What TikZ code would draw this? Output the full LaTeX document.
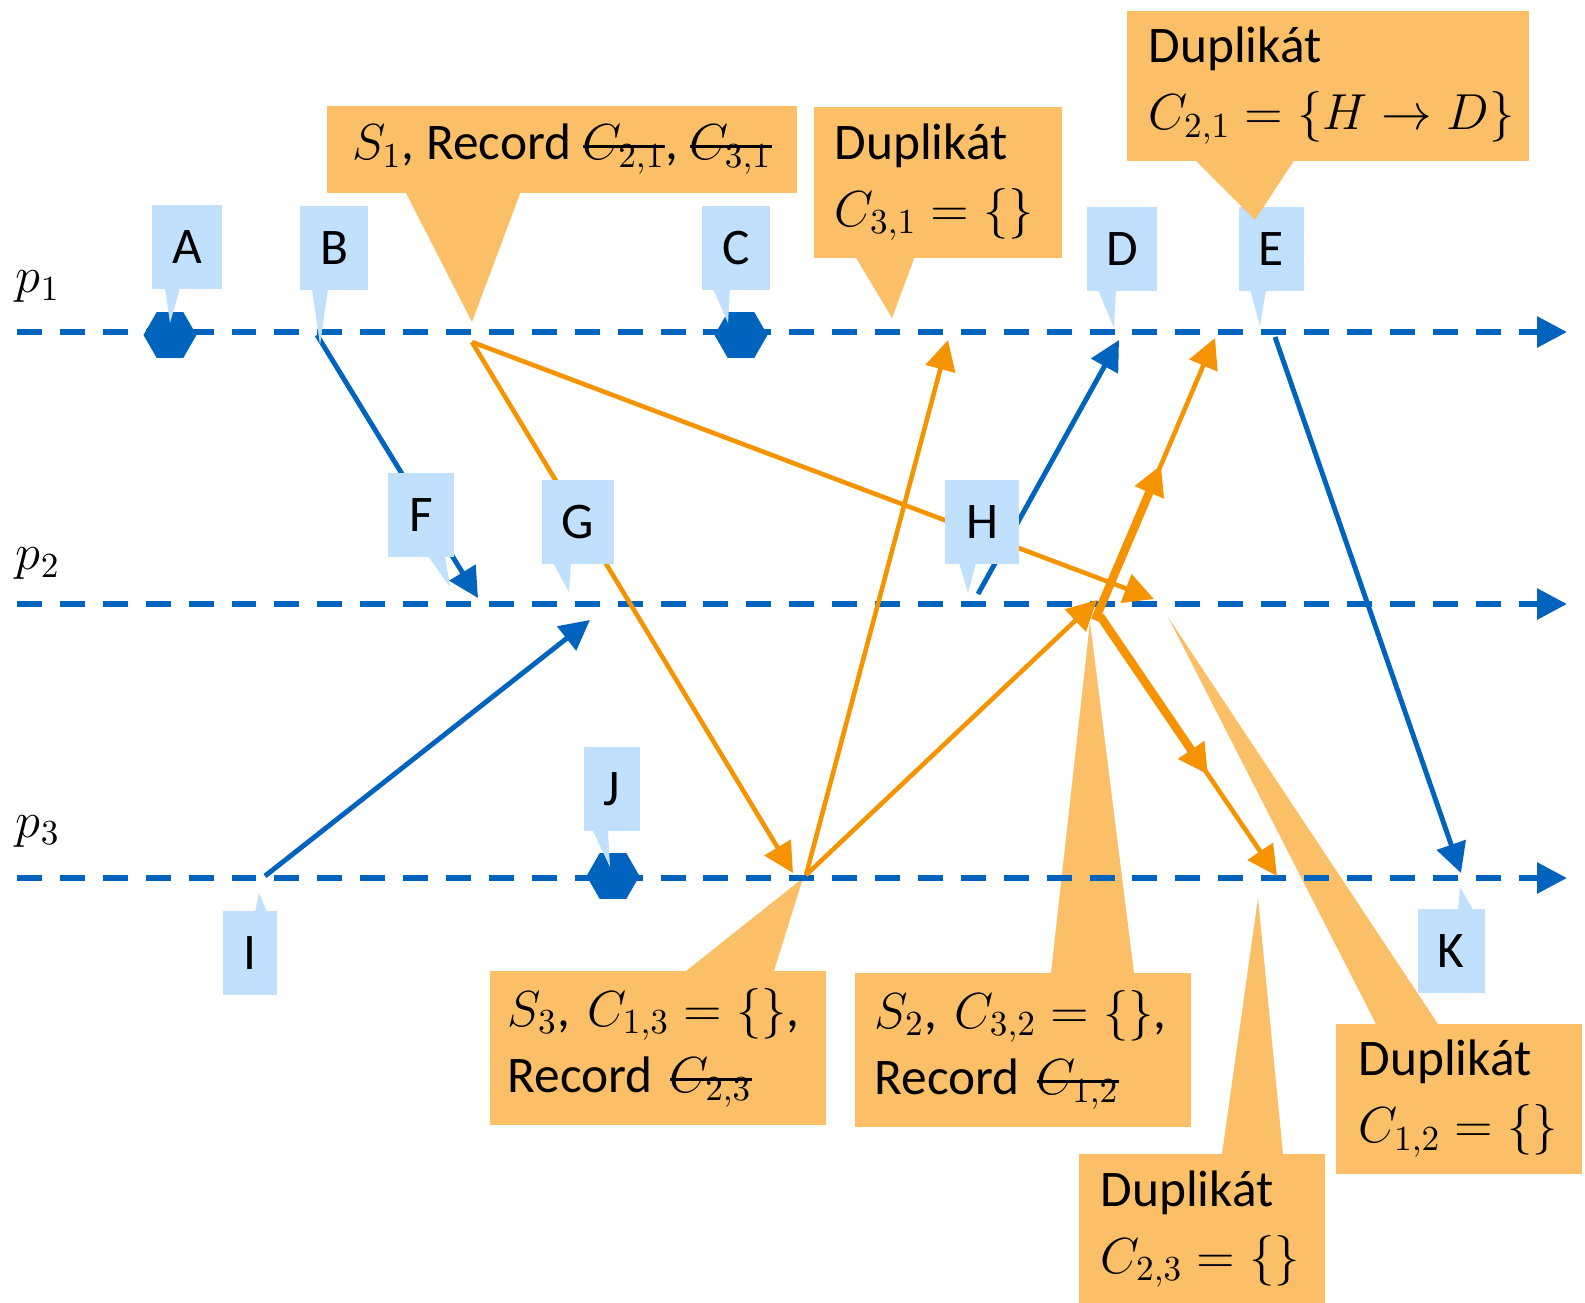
\documentclass[tikz,border=0pt]{standalone}
\usepackage{fontspec}
\setmainfont{Carlito}
\usepackage{amsmath}
\usetikzlibrary{arrows.meta,shapes.geometric,calc}
\definecolor{blau}{RGB}{0,99,190}
\definecolor{hblau}{RGB}{192,224,254}
\definecolor{oranz}{RGB}{245,147,0}
\definecolor{horanz}{RGB}{251,191,104}
\newlength{\strklen}
\newcommand{\strk}[1]{\settowidth{\strklen}{$#1$}\rlap{\rule[0.5ex]{\strklen}{0.85pt}}$#1$}

\begin{document}
\begin{tikzpicture}[x=0.01cm,y=-0.01cm,
  every node/.style={font=\fontsize{14.6}{19}\selectfont},
  casova/.style={blau,line width=1.7pt,dash pattern=on 7.1pt off 5.1pt,-{Triangle[length=8.5pt,width=8.5pt]}},
  modra/.style={blau,line width=1.4pt,-{Triangle[length=8.5pt,width=8.5pt]}},
  oranzova/.style={oranz,line width=1.3pt,-{Triangle[length=8.5pt,width=8.5pt]}},
  tlusta/.style={oranzova,line width=2.4pt},
  udalost/.style={regular polygon,regular polygon sides=6,fill=blau,minimum size=0.53cm,inner sep=0pt},
  stitek/.style={fill=hblau,minimum height=0.84cm,inner sep=0pt},
  bublina/.style={fill=horanz,inner xsep=0.2cm,inner ysep=0pt,align=left,anchor=north west}]
\useasboundingbox (0,0) rectangle (1585,1302);

\coordinate (p1s) at (17,332); \coordinate (p1e) at (1567,332);
\coordinate (p2s) at (17,604); \coordinate (p2e) at (1567,604);
\coordinate (p3s) at (17,878); \coordinate (p3e) at (1567,878);

\coordinate (B) at (317,335);  \coordinate (F) at (478,598);
\coordinate (I) at (265,876);  \coordinate (G) at (590,620);
\coordinate (H) at (978,594);  \coordinate (D) at (1119,340);
\coordinate (E) at (1275,337); \coordinate (K) at (1461,873);
\coordinate (S1) at (472,342); \coordinate (S3) at (806,875);
\coordinate (S2) at (1095,620); \coordinate (S2b) at (1100,616);
\coordinate (m31) at (793,873); \coordinate (m21) at (1154,599);
\coordinate (m13) at (948,340); \coordinate (m23) at (1097,600);
\coordinate (m12) at (1215,338); \coordinate (m32) at (1277,876);

\node[bublina,align=center,minimum width=4.7cm,minimum height=0.87cm] (s1box) at (326,105) {$S_1$, Record \strk{C_{2,1}}, \strk{C_{3,1}}};
\node[bublina,text width=2.06cm,inner xsep=0.21cm,minimum height=1.51cm] (c31box) at (813,106) {Duplikát\\$C_{3,1}=\{\}$};
\node[bublina,text width=3.0cm,inner xsep=0.18cm,minimum height=1.54cm] (s3box) at (489,970) {$S_3$, $C_{1,3}=\{\}$,\\Record \strk{C_{2,3}}};
\node[bublina,text width=2.96cm,minimum height=1.54cm] (s2box) at (854,972) {$S_2$, $C_{3,2}=\{\}$,\\Record \strk{C_{1,2}}};
\node[bublina,text width=2.02cm,inner xsep=0.22cm,minimum height=1.51cm] (c23box) at (1078,1153) {Duplikát\\$C_{2,3}=\{\}$};
\node[bublina,text width=2.0cm,inner xsep=0.23cm,minimum height=1.50cm] (c12box) at (1335,1023) {Duplikát\\$C_{1,2}=\{\}$};
\foreach \xa/\xb/\yb/\xc/\yc in {405/521/191/472/322, 855/915/256/892/318, 686/774/971/803/878,
  1051/1134/973/1090/622, 1222/1283/1154/1258/898, 1376/1438/1024/1168/617}
  \fill[horanz] (\xa,\yb) -- (\xb,\yb) -- (\xc,\yc) -- cycle;

\draw[casova] (p1s) -- (p1e);
\draw[casova] (p2s) -- (p2e);
\draw[casova] (p3s) -- (p3e);
\node (p1) at (38,287) {$p_1$};
\node (p2) at (38,564) {$p_2$};
\node (p3) at (38,831) {$p_3$};
\node[udalost] (hA) at (170,335) {};
\node[udalost] (hC) at (741,335) {};
\node[udalost] (hJ) at (613,876) {};

\draw[modra] (B) -- (F);
\draw[modra] (I) -- (G);
\draw[modra] (H) -- (D);
\draw[modra] (E) -- (K);
\draw[oranzova] (S1) -- (m31);
\draw[oranzova] (S1) -- (m21);
\draw[oranzova] (S3) -- (m13);
\draw[oranzova] (S3) -- (m23);
\draw[oranzova] (S2) -- (m12);
\draw[tlusta] (S2) -- ($(S2)!0.55!(m12)$);
\draw[oranzova] (S2b) -- (m32);
\draw[tlusta] (S2b) -- ($(S2b)!0.61!(m32)$);

\foreach \n/\x/\y/\w in {A/187/247/7.0mm, B/334/248/6.8mm, C/736/248/6.8mm, D/1122/249/7.0mm,
  E/1271/249/6.5mm, F/421/515/6.5mm, G/578/522/7.2mm, H/982/522/7.3mm,
  I/250/953/5.3mm, J/612/789/5.6mm, K/1451/951/6.7mm}
  \node[stitek,minimum width=\w] (l\n) at (\x,\y) {\n};
\foreach \xa/\xb/\yb/\xc/\yc in {165/180/288/170/323, 312/328/289/320/345, 713/730/289/728/323,
  1098/1116/290/1114/328, 1250/1266/290/1260/326, 428/445/556/450/587, 553/571/563/569/592,
  959/976/563/968/593, 255/267/912/259/893, 593/608/831/610/867, 1458/1473/910/1460/887}
  \fill[hblau] (\xa,\yb) -- (\xb,\yb) -- (\xc,\yc) -- cycle;

\node[bublina,text width=3.58cm,inner xsep=0.22cm,minimum height=1.50cm] (c21box) at (1126,10) {Duplikát\\\mbox{$C_{2,1}=\{H\rightarrow D\}$}};
\fill[horanz] (1194,159) -- (1295,159) -- (1255,220) -- cycle;
\end{tikzpicture}
\end{document}
